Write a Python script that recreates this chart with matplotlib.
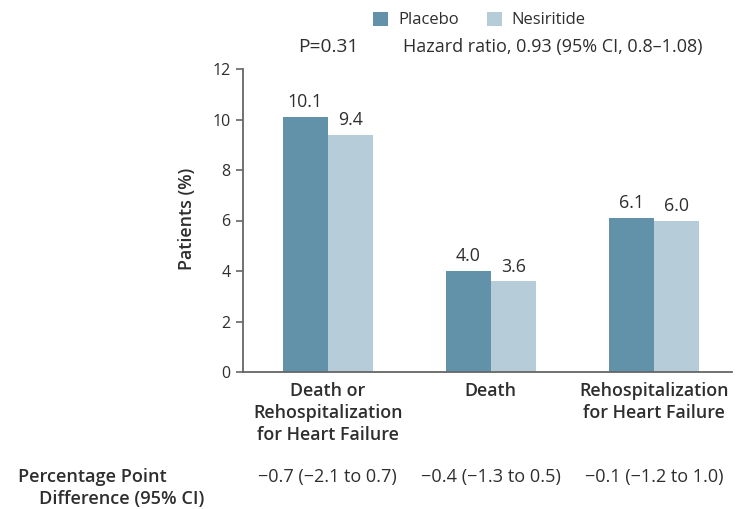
import numpy as np
import matplotlib.pyplot as plt
import matplotlib.transforms as mtrans

plt.rcParams['font.family'] = ['Open Sans', 'DejaVu Sans']

# data
categories = ['Death or\nRehospitalization\nfor Heart Failure', 'Death',
              'Rehospitalization\nfor Heart Failure']
placebo = [10.1, 4.0, 6.1]
nesiritide = [9.4, 3.6, 6.0]
differences = ['\u22120.7 (\u22122.1 to 0.7)', '\u22120.4 (\u22121.3 to 0.5)',
               '\u22120.1 (\u22121.2 to 1.0)']
series_names = ['Placebo', 'Nesiritide']
p_text = 'P=0.31'
hr_text = 'Hazard ratio, 0.93 (95% CI, 0.8\u20131.08)'

c_plac = '#6292a9'
c_nes = '#b7ccd9'
txt = '#2e2e2e'
axc = '#666666'

W, H = 744, 509
fig = plt.figure(figsize=(W / 100, H / 100), dpi=100)
renderer = fig.canvas.get_renderer()


def fy(py):
    return 1 - py / H


def fit(t, target, vertical=False):
    # scale font so the text spans `target` pixels
    bb = t.get_window_extent(renderer)
    cur = bb.height if vertical else bb.width
    t.set_fontsize(t.get_fontsize() * target / cur)
    return t


ax = fig.add_axes([243 / W, fy(372), (732 - 243) / W, (372 - 69) / H])
tr = mtrans.blended_transform_factory(ax.transData, fig.transFigure)

x = np.arange(len(categories))
w = 0.276
b1 = ax.bar(x - w / 2, placebo, w, color=c_plac, label=series_names[0])
b2 = ax.bar(x + w / 2, nesiritide, w, color=c_nes, label=series_names[1])

ax.set_xlim(-0.52, 2.48)
ax.set_ylim(0, 12)

# value labels
probe = fig.text(0.5, 0.5, '10.1', fontsize=11)
fit(probe, 35)
val_fs = probe.get_fontsize()
probe.remove()
up = mtrans.offset_copy(ax.transData, fig=fig, x=0, y=4, units='points')
for bars, vals in [(b1, placebo), (b2, nesiritide)]:
    for r, v in zip(bars, vals):
        ax.text(r.get_x() + r.get_width() / 2, v, '%.1f' % v, transform=up,
                ha='center', va='bottom', fontsize=val_fs, color=txt)

ax.set_yticks(range(0, 13, 2))
ax.tick_params(axis='y', direction='out', length=5, width=1.2, color=axc,
               labelsize=11.5, labelcolor=txt, pad=4)
ax.set_xticks([])
for s in ['top', 'right']:
    ax.spines[s].set_visible(False)
for s in ['left', 'bottom']:
    ax.spines[s].set_color(axc)
    ax.spines[s].set_linewidth(1.3)

# category labels under the bars
cat_texts = []
for xi, c in zip(x, categories):
    t = fig.text(xi, fy(382), c, transform=tr, ha='center', va='top',
                 fontsize=12, fontweight='semibold', color=txt)
    cat_texts.append(t)
fit(cat_texts[0], 150)
cat_fs = cat_texts[0].get_fontsize()
for t in cat_texts:
    t.set_fontsize(cat_fs)
    t.set_linespacing(23 / (cat_fs * 100 / 72))

yl = fig.text(187 / W, fy(219), 'Patients (%)', rotation=90, ha='center',
              va='center', fontsize=12, fontweight='semibold', color=txt)
fit(yl, 102, vertical=True)

# legend
fs_leg = 12
em = fs_leg * 100 / 72
leg = ax.legend(loc='center left', bbox_to_anchor=(373 / W, fy(20)),
                bbox_transform=fig.transFigure, ncol=2, frameon=False,
                fontsize=fs_leg, borderpad=0, borderaxespad=0,
                handlelength=15 / em, handleheight=15 / em,
                handletextpad=10 / em, columnspacing=28 / em, labelcolor=txt)

t = fig.text(298 / W, fy(47), p_text, fontsize=11, color=txt,
             va='center', ha='left')
fit(t, 60)
t = fig.text(403 / W, fy(47), hr_text, fontsize=11, color=txt,
             va='center', ha='left')
fit(t, 300)

# difference row
for xi, d in zip(x, differences):
    t = fig.text(xi, fy(477), d, transform=tr, ha='center', va='center',
                 fontsize=11, color=txt)
    fit(t, 139)
t = fig.text(18 / W, fy(477), 'Percentage Point', fontsize=12,
             fontweight='semibold', color=txt, va='center', ha='left')
fit(t, 149)
t2 = fig.text(39 / W, fy(499), 'Difference (95% CI)', fontsize=12,
              fontweight='semibold', color=txt, va='center', ha='left')
t2.set_fontsize(t.get_fontsize())

fig.savefig('out.png', dpi=100)
